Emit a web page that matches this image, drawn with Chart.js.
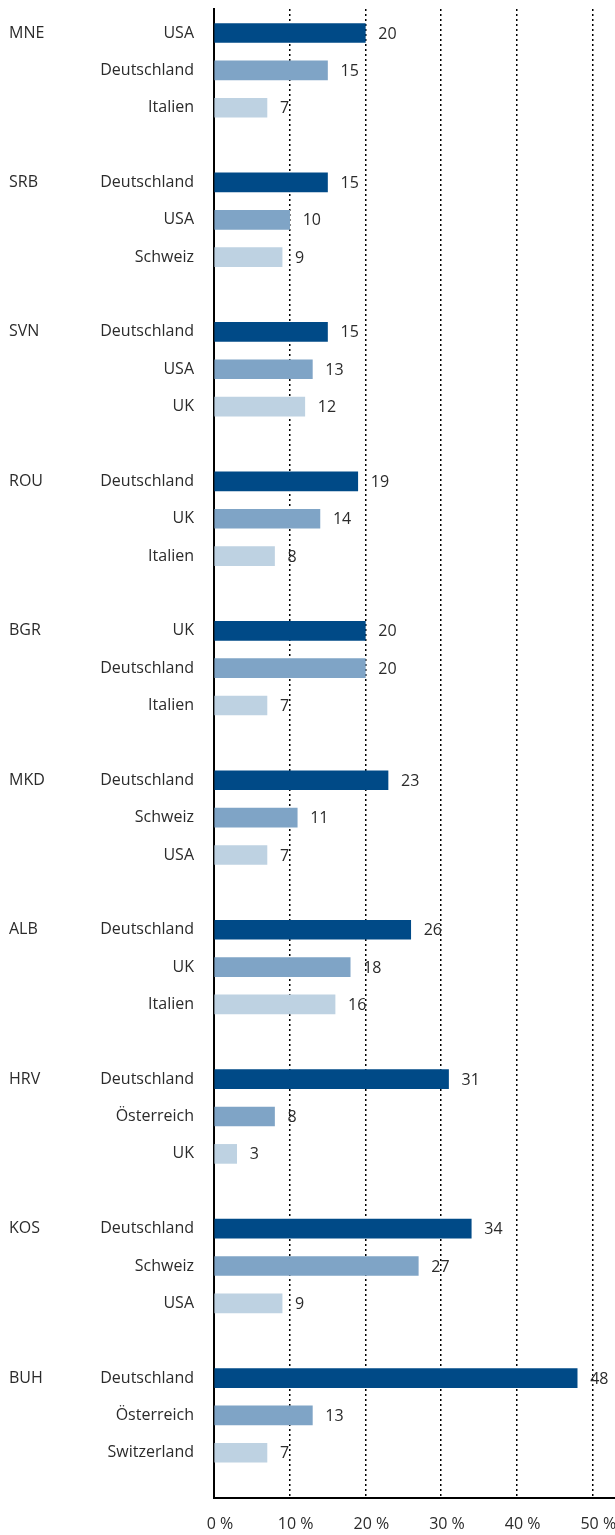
<!DOCTYPE html>
<html lang="de">
<head>
<meta charset="utf-8">
<title>Wichtigste Zielländer</title>
<script src="https://cdn.jsdelivr.net/npm/chart.js@4.4.1/dist/chart.umd.min.js"></script>
<style>
  html, body { margin: 0; padding: 0; background: #fff; }
  #wrap { width: 615px; height: 1535px; position: relative; }
</style>
</head>
<body>
<div id="wrap"><canvas id="grafik"></canvas></div>
<script>
// --- Daten ---
const laender = ['MNE', 'SRB', 'SVN', 'ROU', 'BGR', 'MKD', 'ALB', 'HRV', 'KOS', 'BUH'];

// Erstes, zweites und drittes Zielland je Herkunftsland
const ziel1 = ['USA', 'Deutschland', 'Deutschland', 'Deutschland', 'UK', 'Deutschland', 'Deutschland', 'Deutschland', 'Deutschland', 'Deutschland'];
const wert1 = [20, 15, 15, 19, 20, 23, 26, 31, 34, 48];

const ziel2 = ['Deutschland', 'USA', 'USA', 'UK', 'Deutschland', 'Schweiz', 'UK', 'Österreich', 'Schweiz', 'Österreich'];
const wert2 = [15, 10, 13, 14, 20, 11, 18, 8, 27, 13];

const ziel3 = ['Italien', 'Schweiz', 'UK', 'Italien', 'Italien', 'USA', 'Italien', 'UK', 'USA', 'Switzerland'];
const wert3 = [7, 9, 12, 8, 7, 7, 16, 3, 9, 7];

const xTicks = [0, 10, 20, 30, 40, 50];

const farben = ['#004a87', '#7fa4c6', '#bed2e2'];
const schrift = '"Open Sans", "Noto Sans", sans-serif';
const textFarbe = '#2b2b2b';

// --- Zeilen aufbauen: 3 Balken pro Land, dann eine Leerzeile ---
const PRO_GRUPPE = 4;
const zeilenNamen = [];
const rang = [[ziel1, wert1], [ziel2, wert2], [ziel3, wert3]];

const datasets = rang.map(([namen, werte], r) => {
  const punkte = laender.map((land, g) => {
    const idx = g * PRO_GRUPPE + r;
    zeilenNamen[idx] = namen[g];
    return { x: werte[g], y: idx };
  });
  return {
    label: 'Rang ' + (r + 1),
    data: punkte,
    backgroundColor: farben[r],
    borderWidth: 0,
    barThickness: 19,
    grouped: false
  };
});

// Ticks nur dort, wo ein Balken steht
const yTicks = [];
zeilenNamen.forEach((name, i) => { if (name) yTicks.push(i); });

// --- Plugins: Länderkürzel links und Werte neben den Balken ---
const laenderKuerzel = {
  id: 'laenderKuerzel',
  afterDraw(chart) {
    const { ctx, scales } = chart;
    ctx.save();
    ctx.font = '16px ' + schrift;
    ctx.fillStyle = textFarbe;
    ctx.textAlign = 'left';
    ctx.textBaseline = 'middle';
    laender.forEach((land, g) => {
      ctx.fillText(land, scales.y.left + 9, scales.y.getPixelForValue(g * PRO_GRUPPE));
    });
    ctx.restore();
  }
};

const wertLabels = {
  id: 'wertLabels',
  afterDatasetsDraw(chart) {
    const { ctx } = chart;
    ctx.save();
    ctx.font = '16px ' + schrift;
    ctx.fillStyle = textFarbe;
    ctx.textAlign = 'left';
    ctx.textBaseline = 'middle';
    chart.data.datasets.forEach((ds, i) => {
      chart.getDatasetMeta(i).data.forEach((bar, j) => {
        ctx.fillText(String(ds.data[j].x), bar.x + 13, bar.y + 1);
      });
    });
    ctx.restore();
  }
};

// keine Zusatzränder für überstehende Beschriftungen
const ohneRand = (scale) => {
  scale.paddingTop = 0;
  scale.paddingBottom = 0;
  scale.paddingLeft = 0;
  scale.paddingRight = 0;
};

// --- Diagramm ---
new Chart(document.getElementById('grafik'), {
  type: 'bar',
  data: { datasets },
  plugins: [laenderKuerzel, wertLabels],
  options: {
    indexAxis: 'y',
    responsive: true,
    maintainAspectRatio: false,
    animation: false,
    layout: { padding: { top: 9, right: 0, left: 0, bottom: 0 } },
    plugins: { legend: { display: false }, tooltip: { enabled: false } },
    scales: {
      x: {
        type: 'linear',
        min: 0,
        max: 53,
        bounds: 'data',
        afterBuildTicks: (scale) => { scale.ticks = xTicks.map(v => ({ value: v })); },
        afterFit: (scale) => { ohneRand(scale); scale.height = 37; },
        grid: { display: true, color: '#000', lineWidth: 1.5, drawTicks: false },
        border: { display: true, color: '#000', width: 2, dash: [2, 3] },
        ticks: {
          padding: 17,
          labelOffset: 6,
          color: textFarbe,
          font: { family: schrift, size: 16 },
          callback: v => v + ' %'
        }
      },
      y: {
        type: 'linear',
        reverse: true,
        offset: false,
        min: -0.642,
        max: 39.21,
        bounds: 'data',
        afterBuildTicks: (scale) => { scale.ticks = yTicks.map(v => ({ value: v })); },
        afterFit: (scale) => { ohneRand(scale); scale.width = 214; },
        grid: { display: false, drawTicks: false, offset: false },
        border: { display: true, color: '#000', width: 2 },
        ticks: {
          autoSkip: false,
          padding: 20,
          color: textFarbe,
          font: { family: schrift, size: 16 },
          callback: v => zeilenNamen[v] || ''
        }
      }
    }
  }
});
</script>
</body>
</html>
